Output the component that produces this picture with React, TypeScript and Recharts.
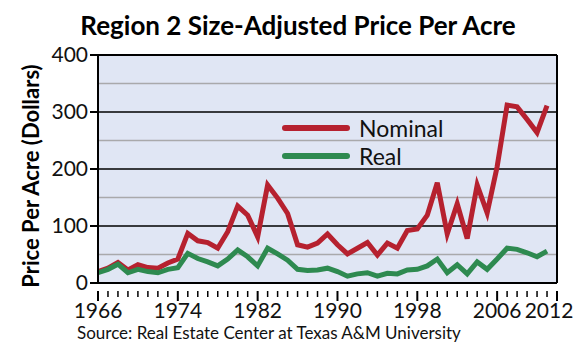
import { CartesianGrid, Line, LineChart, ReferenceLine, XAxis, YAxis } from "recharts";

const YEARS = [
  1966, 1967, 1968, 1969, 1970, 1971, 1972, 1973, 1974, 1975, 1976, 1977, 1978, 1979, 1980, 1981,
  1982, 1983, 1984, 1985, 1986, 1987, 1988, 1989, 1990, 1991, 1992, 1993, 1994, 1995, 1996, 1997,
  1998, 1999, 2000, 2001, 2002, 2003, 2004, 2005, 2006, 2007, 2008, 2009, 2010, 2011,
];
const NOMINAL = [
  20, 26, 36, 23, 32, 27, 26, 35, 42, 87, 74, 71, 61, 90, 135, 119,
  81, 172, 149, 122, 67, 63, 70, 86, 67, 51, 61, 71, 49, 70, 61, 92,
  95, 119, 176, 86, 139, 78, 172, 123, 204, 312, 309, 287, 264, 311,
];
const REAL = [
  18, 24, 33, 18, 24, 20, 18, 24, 27, 52, 43, 37, 30, 42, 58, 46,
  30, 61, 51, 40, 24, 22, 23, 26, 20, 12, 16, 18, 12, 17, 16, 23,
  24, 30, 42, 18, 32, 16, 37, 24, 42, 61, 59, 53, 46, 56,
];
const X_TICKS = Array.from({ length: 47 }, (_, i) => 1966 + i);
const X_LABELS = [1966, 1974, 1982, 1990, 1998, 2006, 2012];
const Y_TICKS = [0, 100, 200, 300, 400];
const MINOR_GRID = [50, 150, 250, 350];
const MAJOR_GRID = [100, 200, 300];

const FONT = "Lato, 'Open Sans', sans-serif";
const RED = "#b6212f";
const GREEN = "#2e8a50";

const SERIES = [
  { key: "Nominal", color: RED },
  { key: "Real", color: GREEN },
];

const data = YEARS.map((year, i) => ({ year, Nominal: NOMINAL[i], Real: REAL[i] }));

const XTick = (props: any) => {
  const { x, y, payload } = props;
  const big = X_LABELS.includes(payload.value);
  return (
    <g>
      <line x1={x} x2={x} y1={y} y2={y + (big ? 10 : 6)} stroke="#000" strokeWidth={big ? 2 : 1.5} />
      {big && (
        <text x={payload.value === 2012 ? x - 8 : x} y={y + 27} textAnchor="middle" fontSize={21} fontFamily={FONT} fill="#111">
          {payload.value}
        </text>
      )}
    </g>
  );
};

export default function App() {
  return (
    <div style={{ position: "relative", width: 588, height: 355, background: "#fff", fontFamily: FONT }}>
      <style>{"body{margin:0}"}</style>
      <div style={{ position: "absolute", left: 0, top: 9, width: 596, textAlign: "center", fontSize: 26, fontWeight: 700 }}>
        Region 2 Size-Adjusted Price Per Acre
      </div>
      <div
        style={{
          position: "absolute",
          left: 30,
          top: 176,
          transform: "translate(-50%, -50%) rotate(-90deg)",
          whiteSpace: "nowrap",
          fontSize: 22,
          fontWeight: 700,
        }}
      >
        Price Per Acre (Dollars)
      </div>
      <div style={{ position: "absolute", left: 77, top: 322, fontSize: 17, color: "#111" }}>
        Source: Real Estate Center at Texas A&amp;M University
      </div>
      <LineChart width={588} height={355} data={data} margin={{ top: 55, right: 31, bottom: 0, left: 0 }}>
        <CartesianGrid horizontal={false} vertical={false} fill="#e0e6f4" stroke="none" />
        {MINOR_GRID.map((v) => (
          <ReferenceLine key={v} y={v} stroke="#a9a9ab" strokeWidth={1.5} />
        ))}
        {MAJOR_GRID.map((v) => (
          <ReferenceLine key={v} y={v} stroke="#000" strokeWidth={1.5} />
        ))}
        <ReferenceLine y={400} stroke="#000" strokeWidth={2} />
        <ReferenceLine x={2012} stroke="#000" strokeWidth={2} />
        <XAxis
          dataKey="year"
          type="number"
          domain={[1966, 2012]}
          ticks={X_TICKS}
          interval={0}
          tick={<XTick />}
          tickLine={false}
          axisLine={{ stroke: "#000", strokeWidth: 2 }}
          height={72}
        />
        <YAxis
          domain={[0, 400]}
          ticks={Y_TICKS}
          width={98}
          tickSize={8}
          tickLine={{ stroke: "#000", strokeWidth: 2 }}
          axisLine={{ stroke: "#000", strokeWidth: 2 }}
          tick={{ fontSize: 21, fontFamily: FONT, fill: "#111" }}
        />
        {SERIES.map((s) => (
          <Line key={s.key} dataKey={s.key} stroke={s.color} strokeWidth={5} dot={false} isAnimationActive={false} />
        ))}
      </LineChart>
      <div style={{ position: "absolute", left: 282, top: 114 }}>
        {SERIES.map((s) => (
          <div key={s.key} style={{ display: "flex", alignItems: "center", height: 28 }}>
            <div style={{ width: 68, height: 6, borderRadius: 3, background: s.color, marginRight: 9 }} />
            <span style={{ fontSize: 23, color: "#111" }}>{s.key}</span>
          </div>
        ))}
      </div>
    </div>
  );
}
